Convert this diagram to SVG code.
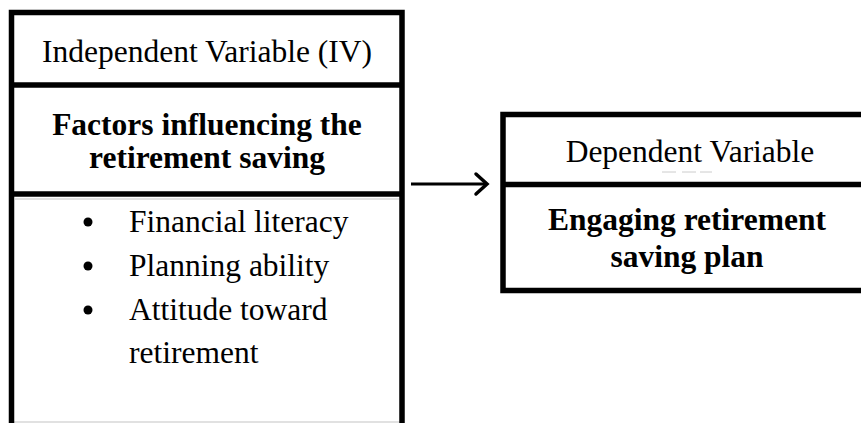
<svg xmlns="http://www.w3.org/2000/svg" width="861" height="423" viewBox="0 0 861 423">
<style>
.b{fill:none;stroke:#000;stroke-width:5.5}
.g{fill:none;stroke:#c4c4c4;stroke-width:1.2}
.t{font-family:"Liberation Serif","Times New Roman",serif;font-size:31.5px;fill:#000}
.bd{font-weight:bold}
.c{text-anchor:middle}
</style>
<rect width="861" height="423" fill="#fff"/>
<g id="iv">
<line class="g" x1="15" y1="199" x2="399" y2="199"/>
<line class="g" x1="14" y1="422" x2="400" y2="422"/>
<path class="b" d="M11.5 423 V12.5 H402 V423"/>
<line class="b" x1="11.5" y1="85" x2="402" y2="85"/>
<line class="b" x1="11.5" y1="194" x2="402" y2="194"/>
<text class="t c" x="207" y="62">Independent Variable (IV)</text>
<text class="t bd c" x="207" y="135">Factors influencing the</text>
<text class="t bd c" x="207" y="168">retirement saving</text>
<circle cx="88" cy="222" r="4.5"/>
<circle cx="88" cy="266" r="4.5"/>
<circle cx="88" cy="310" r="4.5"/>
<text class="t" x="129" y="232">Financial literacy</text>
<text class="t" x="129" y="276">Planning ability</text>
<text class="t" x="129" y="320">Attitude toward</text>
<text class="t" x="129" y="363">retirement</text>
</g>
<g id="dv">
<path class="b" d="M861 114.5 H503 V290.5 H861"/>
<line class="b" x1="503" y1="184.5" x2="861" y2="184.5"/>
<line x1="662" y1="172" x2="676" y2="172" stroke="#ccc" stroke-width="1"/>
<line x1="682" y1="172" x2="696" y2="172" stroke="#ccc" stroke-width="1"/>
<line x1="700" y1="172" x2="712" y2="172" stroke="#ccc" stroke-width="1"/>
<text class="t c" x="690" y="162">Dependent Variable</text>
<text class="t bd c" x="687" y="230">Engaging retirement</text>
<text class="t bd c" x="687" y="267">saving plan</text>
</g>
<g id="connectors">
<line x1="411" y1="184" x2="486" y2="184" stroke="#000" stroke-width="3"/>
<polyline points="476,174 487,184 476,194" fill="none" stroke="#000" stroke-width="3.5" stroke-linecap="round"/>
</g>
</svg>
